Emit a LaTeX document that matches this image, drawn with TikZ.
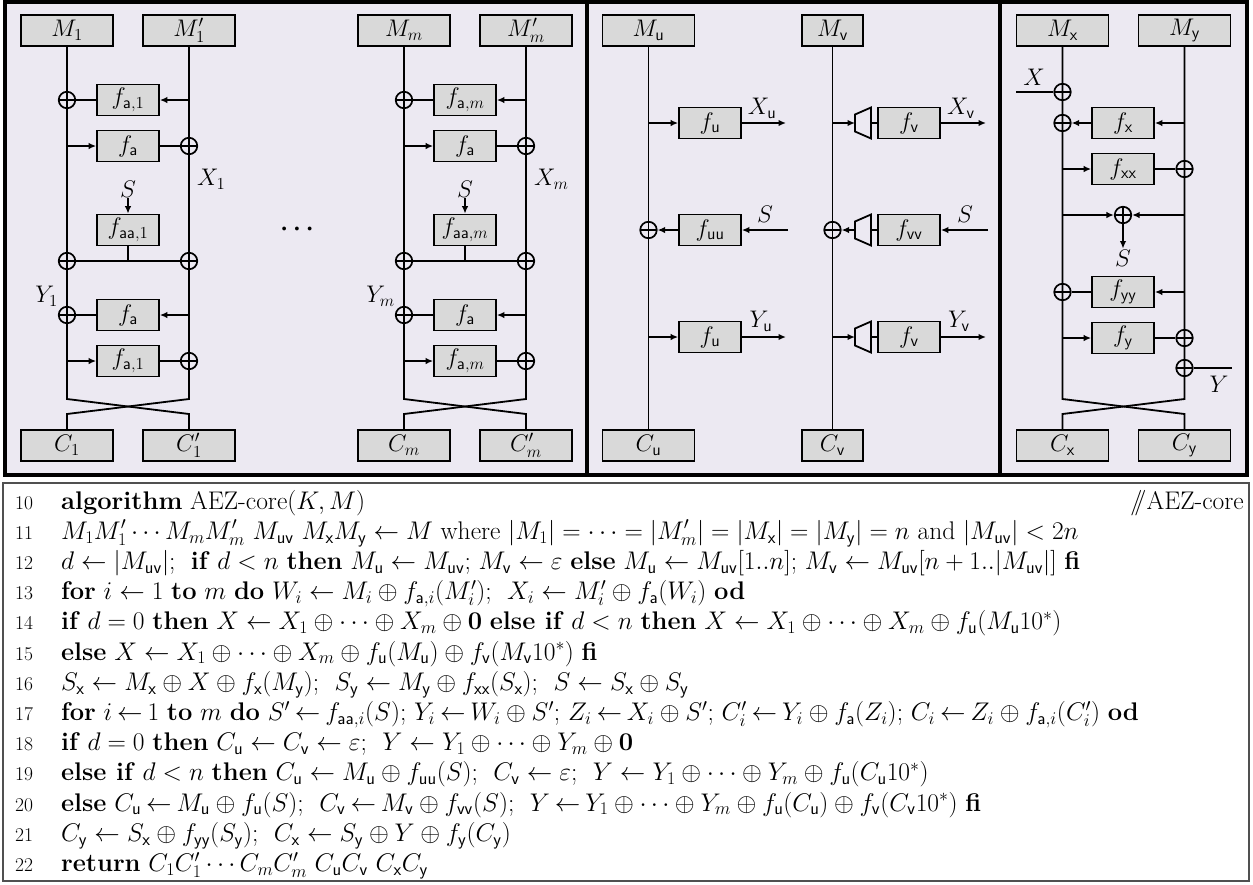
\RequirePackage{fix-cm}
\documentclass[tikz,border=0pt]{standalone}
\usepackage{tikz}
\usetikzlibrary{arrows.meta}
\definecolor{panelbg}{RGB}{236,233,242}
\definecolor{boxgray}{RGB}{217,217,217}
\definecolor{algline}{RGB}{80,80,80}
\newcommand{\sfs}[1]{\mathsf{#1}}
\newcommand{\lno}[1]{{\fontsize{19.5}{30.2}\selectfont#1}}
\newcommand{\tl}{\mskip-1.5mu\leftarrow\mskip-1.5mu}
\tikzset{
  wire/.style={line width=1.8pt},
  arr/.style={wire,-{Latex[length=7.5pt,width=6.5pt]}},
  fbox/.style={draw,fill=boxgray,line width=1.7pt,minimum width=62pt,minimum height=31pt,inner sep=0pt},
  iobox/.style={fbox,minimum width=92pt},
  xor/.style={draw,circle,line width=1.7pt,minimum size=16.5pt,inner sep=0pt,
    path picture={\draw[line width=1.7pt] (path picture bounding box.north) -- (path picture bounding box.south)
      (path picture bounding box.west) -- (path picture bounding box.east);}},
  lbl/.style={inner sep=1pt},
  panel/.style={draw,line width=4pt,fill=panelbg}
}

\begin{document}
\begin{tikzpicture}[x=1pt,y=-1pt,font=\fontsize{24}{30.3}\selectfont]
  \useasboundingbox (0,0) rectangle (1253,884);
  \draw[panel] (5,2) rectangle (587,475);
  \draw[panel] (587,2) rectangle (1000,475);
  \draw[panel] (1000,2) rectangle (1247,475);

  % blocks 1 and m
  \foreach \dx/\k in {0/1,337/m}{
    \begin{scope}[xshift=\dx]
      \node[iobox] (M\k) at (67,30.5) {$M_{\k}$};
      \node[iobox] (Mp\k) at (189,30.5) {$M_{\k}'$};
      \node[iobox] (C\k) at (67,445.5) {$C_{\k}$};
      \node[iobox] (Cp\k) at (189,445.5) {$C_{\k}'$};
      \node[xor] (xa\k) at (67,100) {};
      \node[fbox] (fa\k) at (128,100) {$f_{\sfs{a},\k}$};
      \coordinate (ra\k) at (189,100);
      \coordinate (lb\k) at (67,146);
      \node[fbox] (fb\k) at (128,146) {$f_{\sfs{a}}$};
      \node[xor] (xb\k) at (189,146) {};
      \node[lbl,anchor=west] (X\k) at (196,179) {$X_{\k}$};
      \node[lbl] (S\k) at (128,189) {$S$};
      \node[fbox] (faa\k) at (128,230) {$f_{\sfs{aa},\k}$};
      \node[xor] (xc\k) at (67,261) {};
      \node[xor] (xd\k) at (189,261) {};
      \coordinate (jc\k) at (128,261);
      \node[lbl,anchor=east] (Y\k) at (59,296) {$Y_{\k}$};
      \node[xor] (xe\k) at (67,315) {};
      \node[fbox] (fc\k) at (128,315) {$f_{\sfs{a}}$};
      \coordinate (re\k) at (189,315);
      \coordinate (lf\k) at (67,361);
      \node[fbox] (fd\k) at (128,361) {$f_{\sfs{a},\k}$};
      \node[xor] (xf\k) at (189,361) {};
      \coordinate (kl\k) at (67,399);
      \coordinate (kr\k) at (189,399);
      \coordinate (ql\k) at (67,414);
      \coordinate (qr\k) at (189,414);
      \draw[wire] (M\k) -- (kl\k) -- (qr\k) -- (Cp\k);
      \draw[wire] (Mp\k) -- (kr\k) -- (ql\k) -- (C\k);
      \draw[arr] (ra\k) -- (fa\k);
      \draw[wire] (fa\k) -- (xa\k);
      \draw[arr] (lb\k) -- (fb\k);
      \draw[wire] (fb\k) -- (xb\k);
      \draw[arr] (S\k) -- (faa\k);
      \draw[wire] (faa\k) -- (jc\k);
      \draw[wire] (xc\k) -- (xd\k);
      \draw[arr] (re\k) -- (fc\k);
      \draw[wire] (fc\k) -- (xe\k);
      \draw[arr] (lf\k) -- (fd\k);
      \draw[wire] (fd\k) -- (xf\k);
    \end{scope}
  }
  \node[font=\fontsize{17}{17}\selectfont] (dts) at (297,230) {\textbullet\hspace{0.5pt}\textbullet\hspace{0.5pt}\textbullet};

  % u and v
  \node[iobox] (Mu) at (648.5,30.5) {$M_{\sfs u}$};
  \node[iobox,minimum width=61pt] (Mv) at (832.5,30.5) {$M_{\sfs v}$};
  \node[iobox] (Cu) at (648.5,445.5) {$C_{\sfs u}$};
  \node[iobox,minimum width=61pt] (Cv) at (832.5,445.5) {$C_{\sfs v}$};
  \draw[wire] (Mu) -- (Cu);
  \draw[wire] (Mv) -- (Cv);

  \coordinate (uA) at (648.5,123);
  \node[fbox] (fuA) at (710,123) {$f_{\sfs u}$};
  \coordinate (xuo) at (786,123);
  \node[lbl] (Xu) at (762,108) {$X_{\sfs u}$};
  \draw[arr] (uA) -- (fuA);
  \draw[arr] (fuA) -- (xuo);

  \node[xor] (xuB) at (648.5,230) {};
  \node[fbox] (fuu) at (710,230) {$f_{\sfs{uu}}$};
  \coordinate (suin) at (788,230);
  \node[lbl] (Su) at (765,214) {$S$};
  \draw[arr] (suin) -- (fuu);
  \draw[arr] (fuu) -- (xuB);

  \coordinate (uC) at (648.5,337);
  \node[fbox] (fuC) at (710,337) {$f_{\sfs u}$};
  \coordinate (yuo) at (786,337);
  \node[lbl] (Yu) at (761,321) {$Y_{\sfs u}$};
  \draw[arr] (uC) -- (fuC);
  \draw[arr] (fuC) -- (yuo);

  \foreach \r/\y in {A/123,B/230,C/337}{
    \coordinate (tl\r) at (855,\y);
    \coordinate (tr\r) at (871,\y);
    \draw[wire] (tl\r) ++(0,-8.5) -- ++(16,-7) -- ++(0,31) -- ++(-16,-7) -- cycle;
  }
  \coordinate (vA) at (832.5,123);
  \node[fbox] (fvA) at (909,123) {$f_{\sfs v}$};
  \coordinate (xvo) at (986,123);
  \node[lbl] (Xv) at (961,108) {$X_{\sfs v}$};
  \draw[arr] (vA) -- (tlA);
  \draw[wire] (trA) -- (fvA);
  \draw[arr] (fvA) -- (xvo);

  \node[xor] (xvB) at (832.5,230) {};
  \node[fbox] (fvv) at (909,230) {$f_{\sfs{vv}}$};
  \coordinate (svin) at (988,230);
  \node[lbl] (Sv) at (965,214) {$S$};
  \draw[arr] (svin) -- (fvv);
  \draw[wire] (fvv) -- (trB);
  \draw[arr] (tlB) -- (xvB);

  \coordinate (vC) at (832.5,337);
  \node[fbox] (fvC) at (909,337) {$f_{\sfs v}$};
  \coordinate (yvo) at (986,337);
  \node[lbl] (Yv) at (959,321) {$Y_{\sfs v}$};
  \draw[arr] (vC) -- (tlC);
  \draw[wire] (trC) -- (fvC);
  \draw[arr] (fvC) -- (yvo);

  % x and y
  \node[iobox] (Mx) at (1062.5,30.5) {$M_{\sfs x}$};
  \node[iobox] (My) at (1184.5,30.5) {$M_{\sfs y}$};
  \node[iobox] (Cx) at (1062.5,445.5) {$C_{\sfs x}$};
  \node[iobox] (Cy) at (1184.5,445.5) {$C_{\sfs y}$};
  \coordinate (kx) at (1062.5,399);
  \coordinate (ky) at (1184.5,399);
  \coordinate (qx) at (1062.5,414);
  \coordinate (qy) at (1184.5,414);
  \draw[wire] (Mx) -- (kx) -- (qy) -- (Cy);
  \draw[wire] (My) -- (ky) -- (qx) -- (Cx);

  \coordinate (xin) at (1016,92);
  \node[xor] (xX) at (1062.5,92) {};
  \node[lbl] (Xl) at (1034,77) {$X$};
  \draw[wire] (xin) -- (xX);

  \node[xor] (xfx) at (1062.5,123) {};
  \node[fbox] (ffx) at (1123,123) {$f_{\sfs x}$};
  \coordinate (ryA) at (1184.5,123);
  \draw[arr] (ryA) -- (ffx);
  \draw[arr] (ffx) -- (xfx);

  \coordinate (lxB) at (1062.5,169);
  \node[fbox] (ffxx) at (1123,169) {$f_{\sfs{xx}}$};
  \node[xor] (xfxx) at (1184.5,169) {};
  \draw[arr] (lxB) -- (ffxx);
  \draw[wire] (ffxx) -- (xfxx);

  \coordinate (lxC) at (1062.5,215);
  \coordinate (ryC) at (1184.5,215);
  \node[xor] (xS) at (1123,215) {};
  \node[lbl] (Sxy) at (1123,258) {$S$};
  \draw[arr] (lxC) -- (xS);
  \draw[arr] (ryC) -- (xS);
  \draw[arr] (xS) -- (Sxy);

  \node[xor] (xfyy) at (1062.5,292) {};
  \node[fbox] (ffyy) at (1123,292) {$f_{\sfs{yy}}$};
  \coordinate (ryD) at (1184.5,292);
  \draw[arr] (ryD) -- (ffyy);
  \draw[wire] (ffyy) -- (xfyy);

  \coordinate (lxE) at (1062.5,338);
  \node[fbox] (ffy) at (1123,338) {$f_{\sfs y}$};
  \node[xor] (xfy) at (1184.5,338) {};
  \draw[arr] (lxE) -- (ffy);
  \draw[wire] (ffy) -- (xfy);

  \node[xor] (xY) at (1184.5,368) {};
  \coordinate (yout) at (1232,368);
  \node[lbl] (Yl) at (1219,384) {$Y$};
  \draw[wire] (xY) -- (yout);

  % algorithm
  \draw[algline,line width=1.3pt] (3,483) rectangle (1249,881);
  \node[anchor=base west,inner sep=0pt,font=\fontsize{25.5}{30.2}\selectfont] (alg) at (15,509) {%
    \begin{tabular}[t]{@{}l@{\hspace{28pt}}l@{}}
    \lno{10} & \textbf{algorithm} AEZ-core$(K,M)$\\
    \lno{11} & $M_1M_1'\cdots M_mM_m'\ M_{\sfs{uv}}\ M_{\sfs x}M_{\sfs y}\leftarrow M$ where $|M_1|=\cdots=|M_m'|=|M_{\sfs x}|=|M_{\sfs y}|=n$ and $|M_{\sfs{uv}}|<2n$\\
    \lno{12} & $d\leftarrow|M_{\sfs{uv}}|$;\ \ \textbf{if} $d<n$ \textbf{then} $M_{\sfs u}\leftarrow M_{\sfs{uv}}$; $M_{\sfs v}\leftarrow\varepsilon$ \textbf{else} $M_{\sfs u}\leftarrow M_{\sfs{uv}}[1..n]$; $M_{\sfs v}\leftarrow M_{\sfs{uv}}[n+1..|M_{\sfs{uv}}|]$ \textbf{fi}\\
    \lno{13} & \textbf{for} $i\leftarrow1$ \textbf{to} $m$ \textbf{do} $W_i\leftarrow M_i\oplus f_{\sfs{a},i}(M_i')$;\ \ $X_i\leftarrow M_i'\oplus f_{\sfs a}(W_i)$ \textbf{od}\\
    \lno{14} & \textbf{if} $d=0$ \textbf{then} $X\leftarrow X_1\oplus\cdots\oplus X_m\oplus\mathbf{0}$ \textbf{else if} $d<n$ \textbf{then} $X\leftarrow X_1\oplus\cdots\oplus X_m\oplus f_{\sfs u}(M_{\sfs u}10^*)$\\
    \lno{15} & \textbf{else} $X\leftarrow X_1\oplus\cdots\oplus X_m\oplus f_{\sfs u}(M_{\sfs u})\oplus f_{\sfs v}(M_{\sfs v}10^*)$ \textbf{fi}\\
    \lno{16} & $S_{\sfs x}\leftarrow M_{\sfs x}\oplus X\oplus f_{\sfs x}(M_{\sfs y})$;\ \ $S_{\sfs y}\leftarrow M_{\sfs y}\oplus f_{\sfs{xx}}(S_{\sfs x})$;\ \ $S\leftarrow S_{\sfs x}\oplus S_{\sfs y}$\\
    \lno{17} & \textbf{for} $i\tl1$ \textbf{to} $m$ \textbf{do} $S'\tl f_{\sfs{aa},i}(S)$; $Y_i\tl W_i\oplus S'$; $Z_i\tl X_i\oplus S'$; $C_i'\tl Y_i\oplus f_{\sfs a}(Z_i)$; $C_i\tl Z_i\oplus f_{\sfs{a},i}(C_i')$ \textbf{od}\\
    \lno{18} & \textbf{if} $d=0$ \textbf{then} $C_{\sfs u}\leftarrow C_{\sfs v}\leftarrow\varepsilon$;\ \ $Y\leftarrow Y_1\oplus\cdots\oplus Y_m\oplus\mathbf{0}$\\
    \lno{19} & \textbf{else if} $d<n$ \textbf{then} $C_{\sfs u}\leftarrow M_{\sfs u}\oplus f_{\sfs{uu}}(S)$;\ \ $C_{\sfs v}\leftarrow\varepsilon$;\ \ $Y\leftarrow Y_1\oplus\cdots\oplus Y_m\oplus f_{\sfs u}(C_{\sfs u}10^*)$\\
    \lno{20} & \textbf{else} $C_{\sfs u}\tl M_{\sfs u}\oplus f_{\sfs u}(S)$;\ \ $C_{\sfs v}\tl M_{\sfs v}\oplus f_{\sfs{vv}}(S)$;\ \ $Y\tl Y_1\oplus\cdots\oplus Y_m\oplus f_{\sfs u}(C_{\sfs u})\oplus f_{\sfs v}(C_{\sfs v}10^*)$ \textbf{fi}\\
    \lno{21} & $C_{\sfs y}\leftarrow S_{\sfs x}\oplus f_{\sfs{yy}}(S_{\sfs y})$;\ \ $C_{\sfs x}\leftarrow S_{\sfs y}\oplus Y\oplus f_{\sfs y}(C_{\sfs y})$\\
    \lno{22} & \textbf{return} $C_1C_1'\cdots C_mC_m'\ C_{\sfs u}C_{\sfs v}\ C_{\sfs x}C_{\sfs y}$
    \end{tabular}};
  \node[anchor=base east,inner sep=0pt,font=\fontsize{25.5}{30.2}\selectfont] (cmt) at (1244,509) {$/\!\!/$AEZ-core};
\end{tikzpicture}
\end{document}
